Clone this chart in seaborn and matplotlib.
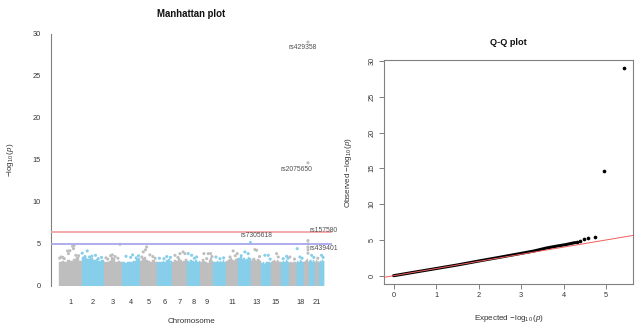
import numpy as np
import pandas as pd
import matplotlib
matplotlib.use("Agg")
import matplotlib.pyplot as plt
import seaborn as sns

# chromosome sizes (Mb, hg19)
chrom_len = [249, 243, 198, 191, 181, 171, 159, 146, 141, 136, 135,
             134, 115, 107, 102, 90, 83, 78, 59, 63, 48, 51]
chrom_labels = ["1", "2", "3", "4", "5", "6", "7", "8", "9", "", "11",
                "", "13", "", "15", "", "", "18", "", "", "21", ""]

# upper edge of the dense point cloud, 8 bins per chromosome (-log10 p)
band_top = [
    [2.9, 3.0, 2.8, 3.1, 3.0, 3.2, 3.4, 3.0],
    [3.4, 3.3, 3.2, 3.3, 3.1, 3.2, 3.0, 3.1],
    [2.8, 2.9, 3.0, 3.5, 3.3, 2.9, 3.0, 2.8],
    [2.8, 2.7, 2.8, 2.9, 2.8, 3.0, 3.2, 3.3],
    [3.0, 3.3, 3.4, 3.1, 3.0, 2.9, 3.1, 2.8],
    [2.9, 2.8, 2.9, 3.0, 2.9, 3.1, 3.2, 3.0],
    [2.9, 3.1, 3.0, 3.3, 3.1, 2.9, 3.0, 3.2],
    [3.0, 2.9, 3.1, 3.0, 2.8, 3.1, 2.9, 3.0],
    [2.9, 3.2, 3.0, 2.8, 2.7, 3.1, 3.3, 3.0],
    [2.8, 2.9, 3.0, 2.8, 3.0, 2.9, 3.1, 2.9],
    [3.0, 3.1, 3.2, 3.3, 3.1, 3.0, 3.2, 3.3],
    [3.3, 3.4, 3.2, 3.3, 3.1, 3.2, 3.4, 3.3],
    [3.0, 3.2, 3.3, 3.1, 3.0, 3.2, 3.1, 3.0],
    [2.7, 2.8, 2.6, 2.7, 2.8, 2.9, 2.8, 2.7],
    [2.9, 3.0, 3.1, 3.0, 2.9, 3.1, 3.0, 2.9],
    [2.8, 2.9, 3.0, 2.8, 2.9, 3.1, 3.0, 2.8],
    [2.7, 2.8, 2.9, 2.7, 2.8, 2.9, 2.8, 2.7],
    [2.9, 3.0, 2.8, 2.9, 3.1, 3.0, 2.9, 2.8],
    [2.8, 2.9, 3.0, 2.9, 3.1, 3.2, 2.9, 2.8],
    [3.0, 3.1, 3.2, 3.0, 2.9, 3.1, 3.0, 2.9],
    [2.9, 3.0, 3.1, 3.0, 2.9, 3.0, 2.9, 3.0],
    [2.8, 3.0, 3.1, 2.9, 3.0, 3.1, 3.0, 2.9],
]

# SNPs standing out above the cloud: chromosome, position (Mb), -log10 p
snp_chr = [1, 1, 1, 1, 1, 1, 1, 1, 1, 1, 1, 1,
           2, 2, 2, 2, 2, 2, 2, 2,
           3, 3, 3, 3, 3, 3, 3,
           4, 4, 4, 4, 4,
           5, 5, 5, 5, 5, 5, 5,
           6, 6, 6, 6,
           7, 7, 7, 7, 7,
           8, 8, 8, 8,
           9, 9, 9, 9, 9,
           10, 10, 10,
           11, 11, 11, 11,
           12, 12, 12, 12,
           13, 13, 13,
           14, 14, 14,
           15, 15,
           16, 16, 16,
           17, 17,
           18, 18, 18,
           19, 19, 19, 19, 19, 19, 19,
           20, 20, 21, 22, 22]
snp_pos = [25, 60, 95, 105, 121, 150, 160, 165, 185, 10, 45, 215,
           5, 35, 60, 85, 150, 180, 110, 215,
           40, 71, 90, 150, 172, 20, 120,
           40, 90, 112, 175, 150,
           36, 60, 73, 108, 140, 20, 165,
           30, 150, 80, 110,
           28, 82, 116, 136, 60,
           13, 50, 104, 80,
           37, 67, 84, 110, 125,
           27, 70, 110,
           43, 78, 122, 100,
           70, 106, 130, 30,
           45, 63, 95,
           38, 74, 95,
           58, 76,
           28, 65, 80,
           11, 60,
           7, 36, 60,
           45.4, 45.4, 45.4, 45.4, 45.4, 45.4, 45.4,
           26, 50, 30, 23, 40]
snp_logp = [3.45, 3.25, 4.17, 3.85, 4.2, 4.72, 4.44, 4.8, 3.65, 3.3, 3.4, 3.6,
            3.9, 3.5, 4.17, 3.45, 3.65, 3.25, 3.55, 3.4,
            3.2, 3.6, 3.7, 3.3, 4.96, 3.35, 3.5,
            3.53, 3.4, 3.7, 3.6, 3.35,
            4.05, 4.3, 4.64, 3.7, 3.5, 3.45, 3.3,
            3.3, 3.4, 3.25, 3.5,
            3.65, 3.85, 4.05, 3.85, 3.4,
            3.85, 3.65, 3.45, 3.3,
            3.85, 3.25, 3.85, 3.85, 3.5,
            3.45, 3.25, 3.35,
            3.45, 4.17, 3.85, 3.6,
            4.05, 3.85, 5.16, 3.6,
            4.33, 4.25, 3.5,
            3.65, 3.65, 3.2,
            3.85, 3.45,
            3.25, 3.53, 3.3,
            3.45, 3.2,
            4.44, 3.45, 3.3,
            29.0, 14.65, 5.4, 5.0, 4.6, 4.3, 3.9,
            3.65, 3.4, 3.3, 3.65, 3.4]

annot_snp = ["rs429358", "rs2075650", "rs7305618", "rs157580", "rs439401"]
annot_chr = [19, 19, 12, 19, 19]
annot_pos = [45.4, 45.4, 130, 45.4, 45.4]
annot_logp = [29.0, 14.65, 5.16, 5.4, 5.0]

suggestive_line = 5.0
genomewide_line = 6.43

# Q-Q plot: expected vs observed -log10 p
qq_band_exp = [0, 0.5, 1.0, 1.5, 2.0, 2.5, 3.0, 3.3, 3.6, 3.85, 4.05, 4.27]
qq_band_obs = [0, 0.5, 1.0, 1.5, 2.05, 2.58, 3.12, 3.45, 3.88, 4.15, 4.35, 4.63]
qq_tail_exp = [4.31, 4.39, 4.48, 4.58, 4.73, 4.95, 5.42]
qq_tail_obs = [4.72, 4.9, 5.09, 5.24, 5.47, 14.6, 29.0]

sns.set_style("white")
plt.rcParams['font.family'] = ['Liberation Sans', 'DejaVu Sans']
plt.rcParams['mathtext.fontset'] = 'custom'
plt.rcParams['mathtext.rm'] = 'Liberation Sans'
plt.rcParams['mathtext.it'] = 'Liberation Sans:italic'
plt.rcParams['axes.unicode_minus'] = True

GRAY = "#BEBEBE"
BLUE = "#87CEEB"
AX = "#808080"
TXT = "#333333"

chrom_start = np.concatenate([[0], np.cumsum(chrom_len)[:-1]])
total = float(np.sum(chrom_len))

fig = plt.figure(figsize=(6.39, 3.24), dpi=100)
W, H = 639.0, 324.0

# ---------------- Manhattan ----------------
ax = fig.add_axes([50.8 / W, (H - 286) / H, 281.3 / W, 252.3 / H])
for i, tops in enumerate(band_top):
    edges = np.linspace(chrom_start[i], chrom_start[i] + chrom_len[i], len(tops) + 1)
    col = GRAY if i % 2 == 0 else BLUE
    ax.bar(edges[:-1], tops, width=np.diff(edges), align="edge",
           color=col, edgecolor=col, linewidth=0.3, zorder=1)

snps = pd.DataFrame({"chr": snp_chr, "pos": snp_pos, "logp": snp_logp})
snps["bp"] = chrom_start[snps["chr"] - 1] + snps["pos"]
snps["grp"] = np.where(snps["chr"] % 2 == 1, "odd", "even")
sns.scatterplot(data=snps, x="bp", y="logp", hue="grp",
                palette={"odd": GRAY, "even": BLUE}, s=5, linewidth=0,
                legend=False, ax=ax, zorder=2)

ax.axhline(genomewide_line, color="#F4A3A3", lw=1.3, zorder=3)
ax.axhline(suggestive_line, color="#A8A8EE", lw=1.3, zorder=3)

offsets = [(-4, -4, "center"), (-8, -5, "center"), (4, 5, "center"),
           (1, 7, "left"), (1, -3, "left")]
for name, c, p, lp, (dx, dy, ha) in zip(annot_snp, annot_chr, annot_pos,
                                         annot_logp, offsets):
    ax.annotate(name, (chrom_start[c - 1] + p, lp), xytext=(dx, dy),
                textcoords="offset points", ha=ha, va="center",
                fontsize=4.9, color="#505050", annotation_clip=False, zorder=4)

ax.set_xlim(-0.03 * total, 1.03 * total)
ax.set_ylim(0, 30)
for s in ["top", "right", "bottom"]:
    ax.spines[s].set_visible(False)
ax.spines["left"].set_color(AX)
ax.spines["left"].set_linewidth(0.8)
ax.set_xticks(chrom_start + np.array(chrom_len) / 2)
ax.set_xticklabels(chrom_labels)
ax.set_yticks([0, 5, 10, 15, 20, 25, 30])
ax.tick_params(axis="both", direction="out", length=3.6, width=0.7,
               color=AX, labelsize=5.3, labelcolor=TXT)
ax.tick_params(axis="x", pad=5.5)
ax.tick_params(axis="y", pad=3.5)
ax.set_xlabel("Chromosome", fontsize=5.8, color=TXT)
ax.set_ylabel(r"$-\log_{10}(\mathit{p})$", fontsize=5.8, color=TXT)
ax.xaxis.set_label_coords(0.5, -0.125)
ax.yaxis.set_label_coords(-0.125, 0.5)
ax.text(0.5, 1.078, "Manhattan plot", transform=ax.transAxes, ha="center",
        va="center", fontsize=6.9, fontweight="bold", color="#111111")

# ---------------- Q-Q ----------------
qx = fig.add_axes([384.3 / W, (H - 284) / H, 249.0 / W, 224.0 / H])
sns.lineplot(x=qq_band_exp, y=qq_band_obs, color="black", lw=2.2,
             solid_capstyle="round", ax=qx, zorder=2)
sns.scatterplot(x=qq_tail_exp, y=qq_tail_obs, color="black", s=7,
                linewidth=0, ax=qx, zorder=2)
qx.axline((0, 0), slope=1, color="#F25C5C", lw=0.7, zorder=3)
qx.set_xlim(-0.217, 5.637)
qx.set_ylim(-1.16, 30.16)
for s in qx.spines.values():
    s.set_visible(True)
    s.set_color(AX)
    s.set_linewidth(0.8)
qx.set_xticks([0, 1, 2, 3, 4, 5])
qx.set_yticks([0, 5, 10, 15, 20, 25, 30])
qx.tick_params(axis="both", direction="out", length=3.6, width=0.7,
               color=AX, labelsize=5.3, labelcolor=TXT, bottom=True, left=True)
qx.tick_params(axis="x", pad=2.5)
qx.tick_params(axis="y", pad=2.5, labelrotation=90)
for t in qx.get_yticklabels():
    t.set_va("center")
qx.set_xlabel(r"Expected $-\log_{10}(\mathit{p})$", fontsize=5.8, color=TXT)
qx.set_ylabel(r"Observed $-\log_{10}(\mathit{p})$", fontsize=5.8, color=TXT)
qx.xaxis.set_label_coords(0.5, -0.128)
qx.yaxis.set_label_coords(-0.122, 0.5)
qx.text(0.5, 1.076, "Q-Q plot", transform=qx.transAxes, ha="center",
        va="center", fontsize=6.6, fontweight="bold", color="#111111")

fig.savefig("out.png", dpi=100)
